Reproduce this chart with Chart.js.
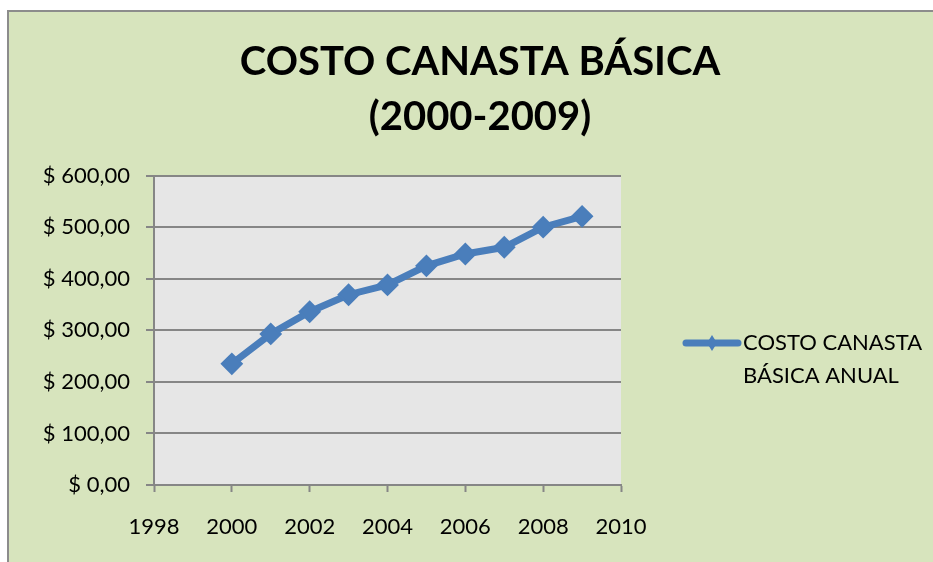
<!DOCTYPE html>
<html lang="es">
<head>
<meta charset="utf-8">
<title>Costo canasta básica</title>
<script src="https://cdn.jsdelivr.net/npm/chart.js@4.4.1/dist/chart.umd.min.js"></script>
<style>
  html, body { margin: 0; padding: 0; background: #ffffff; overflow: hidden; }
  #marco {
    position: absolute; left: 7px; top: 10px;
    width: 960px; height: 560px;
    background: #d7e4bd;
    border-left: 2px solid #8c8c8c;
    border-top: 2px solid #8c8c8c;
  }
  #grafica { display: block; }
</style>
</head>
<body>
<div id="marco">
  <canvas id="grafica" width="942" height="550"></canvas>
</div>
<script>
// Costo anual de la canasta básica
const anios  = [2000, 2001, 2002, 2003, 2004, 2005, 2006, 2007, 2008, 2009];
const costos = [235, 293, 336, 369, 388, 425, 448, 461, 500, 521];

const tituloLineas = ["COSTO CANASTA BÁSICA", "(2000-2009)"];
const serieNombre  = ["COSTO CANASTA", "BÁSICA ANUAL"];

const azul   = "#4a7ebb";
const gris   = "#868686";
const fuente = "Lato, 'Open Sans', sans-serif";

// fondo gris del área de trazado
const fondoPlot = {
  id: "fondoPlot",
  beforeDraw(chart) {
    const { ctx, chartArea: a } = chart;
    ctx.save();
    ctx.fillStyle = "#e6e6e6";
    ctx.fillRect(a.left, a.top, a.right - a.left, a.bottom - a.top);
    ctx.restore();
  }
};

// leyenda a la derecha, texto en dos líneas
const leyenda = {
  id: "leyenda",
  afterDraw(chart) {
    const ctx = chart.ctx;
    const y0 = 331;
    ctx.save();
    ctx.strokeStyle = azul;
    ctx.lineWidth = 7;
    ctx.lineCap = "round";
    ctx.beginPath();
    ctx.moveTo(677, y0);
    ctx.lineTo(729, y0);
    ctx.stroke();
    ctx.fillStyle = azul;
    ctx.beginPath();
    ctx.moveTo(703, y0 - 8);
    ctx.lineTo(708, y0);
    ctx.lineTo(703, y0 + 8);
    ctx.lineTo(698, y0);
    ctx.closePath();
    ctx.fill();
    ctx.fillStyle = "#000";
    ctx.font = "22px " + fuente;
    ctx.textBaseline = "middle";
    ctx.fillText(serieNombre[0], 734, y0);
    ctx.fillText(serieNombre[1], 734, y0 + 33);
    ctx.restore();
  }
};

new Chart(document.getElementById("grafica"), {
  type: "line",
  data: {
    datasets: [{
      label: serieNombre.join(" "),
      data: anios.map((a, i) => ({ x: a, y: costos[i] })),
      borderColor: azul,
      backgroundColor: azul,
      borderWidth: 7,
      pointStyle: "rectRot",
      pointRadius: 10,
      pointBorderWidth: 2,
      pointBackgroundColor: azul,
      pointBorderColor: azul,
      tension: 0,
      fill: false
    }]
  },
  options: {
    responsive: false,
    animation: false,
    layout: { padding: 0 },
    plugins: {
      legend: { display: false },
      tooltip: { enabled: false },
      title: {
        display: true,
        text: tituloLineas,
        color: "#000",
        font: { family: fuente, size: 40, weight: "bold", lineHeight: 1.37 },
        padding: { top: 23, bottom: 31 }
      }
    },
    scales: {
      x: {
        type: "linear",
        min: 1998, max: 2010,
        afterFit(s) { s.height = 77; },
        ticks: {
          stepSize: 2,
          color: "#000",
          padding: 22,
          font: { family: fuente, size: 22 },
          callback: v => String(v)
        },
        grid: { drawOnChartArea: false, drawTicks: true, tickLength: 7, tickColor: gris, tickWidth: 2 },
        border: { display: true, color: gris, width: 2 }
      },
      y: {
        min: 0, max: 600,
        afterFit(s) { s.width = 145; },
        ticks: {
          stepSize: 100,
          color: "#000",
          padding: 16,
          font: { family: fuente, size: 22 },
          callback: v => "$ " + v.toFixed(2).replace(".", ",")
        },
        grid: { color: gris, lineWidth: 2, tickLength: 8, tickColor: gris },
        border: { display: true, color: gris, width: 2 }
      },
      // eje vacío que reserva el espacio de la leyenda
      derecha: {
        position: "right",
        min: 0, max: 600,
        afterFit(s) { s.width = 330; },
        ticks: { display: false },
        grid: { display: false },
        border: { display: false }
      }
    }
  },
  plugins: [fondoPlot, leyenda]
});
</script>
</body>
</html>
